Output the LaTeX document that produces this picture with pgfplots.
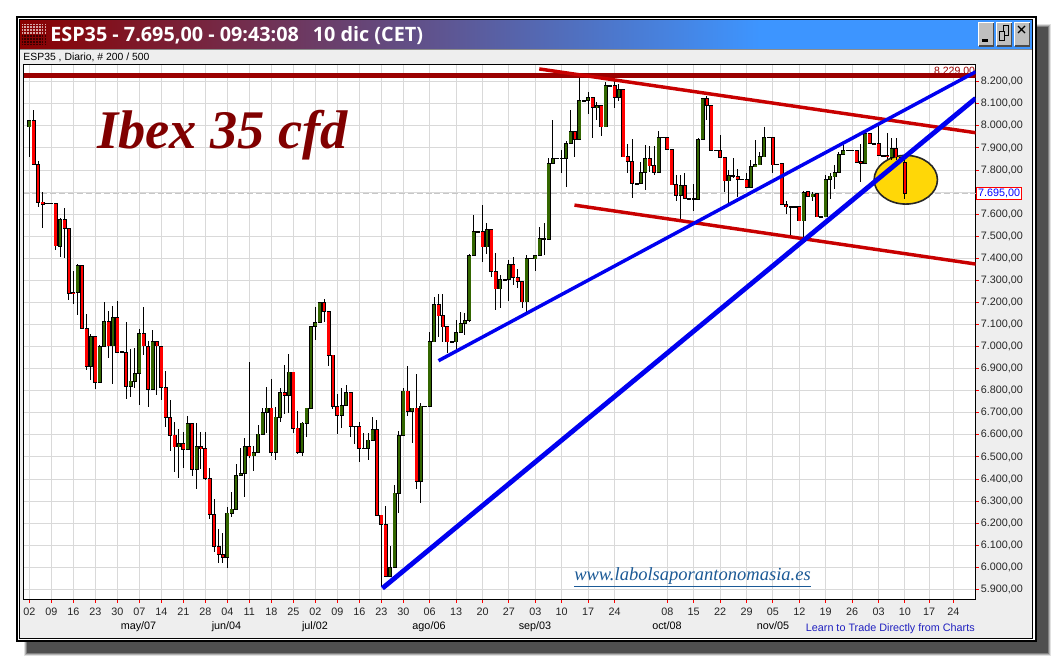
\documentclass[border=0pt]{standalone}
\usepackage{fontspec}
\usepackage{pgfplots}
\usepackage{pgfplotstable}
\pgfplotsset{compat=1.18}
\usetikzlibrary{shapes.geometric}
\setmainfont{Liberation Sans}
\newfontfamily\titlefont{Open Sans}
\newfontfamily\serifit{Liberation Serif}
\definecolor{panel}{HTML}{EEEEEE}
\definecolor{gridc}{HTML}{D9D9D9}
\definecolor{upc}{HTML}{336600}
\definecolor{dnc}{HTML}{FF0000}
\definecolor{ddred}{HTML}{9B0000}
\definecolor{trend}{HTML}{C80000}
\definecolor{tblue}{HTML}{0000F0}
\definecolor{gold}{HTML}{FFD707}
\definecolor{tleft}{HTML}{8A0000}
\definecolor{tright}{HTML}{3D95FF}
\definecolor{webc}{HTML}{1C5A96}
\definecolor{learnc}{HTML}{2020C0}
\pgfplotstableread{
i o h l c
0 7996 8023 7860 8023
7 7453 7585 7407 7576
11 7246 7374 7143 7368
14 6911 7057 6849 7046
16 6838 7007 6838 7001
17 7001 7202 7001 7114
19 7004 7184 6830 7132
23 6820 6989 6773 6843
24 6843 6994 6812 6879
25 6879 7078 6737 7060
28 6806 7075 6806 7022
34 6546 6625 6406 6561
36 6534 6685 6534 6652
38 6444 6652 6353 6546
45 6046 6272 5996 6245
46 6245 6342 6227 6263
47 6263 6468 6263 6417
48 6417 6541 6417 6426
49 6426 6585 6320 6547
51 6505 6552 6438 6521
52 6521 6645 6521 6603
53 6603 6721 6603 6701
54 6701 6816 6607 6721
56 6521 6728 6484 6680
57 6680 6811 6660 6793
59 6778 6967 6698 6884
62 6521 6657 6506 6653
63 6653 6721 6592 6721
64 6721 7092 6721 7092
65 7092 7178 7030 7110
66 7110 7199 7110 7199
71 6689 6811 6633 6734
72 6734 6826 6734 6793
77 6540 6607 6487 6576
78 6576 6681 6576 6625
82 5958 6097 5958 6000
83 6000 6373 6000 6336
84 6336 6618 6245 6598
85 6598 6812 6598 6798
87 6706 6721 6562 6721
89 6390 6743 6290 6730
91 6730 7065 6730 7024
92 7021 7226 7019 7191
97 7022 7120 6984 7064
98 7064 7156 7064 7105
99 7105 7150 7052 7119
100 7119 7420 7110 7413
101 7413 7596 7413 7522
104 7452 7558 7419 7531
107 7262 7324 7176 7304
109 7304 7392 7208 7372
113 7203 7413 7159 7400
115 7398 7413 7344 7413
116 7413 7540 7413 7489
118 7486 7856 7486 7830
119 7830 8026 7830 7853
122 7853 7931 7724 7920
123 7920 8074 7920 7975
125 7939 8215 7939 8115
127 8115 8152 8053 8129
129 8084 8110 8026 8091
131 7996 8198 7996 8183
134 8129 8192 8114 8165
139 7739 7837 7739 7789
140 7789 7915 7709 7853
143 7789 7976 7789 7948
148 7685 7777 7576 7730
152 7668 7945 7668 7939
153 7939 8123 7939 8123
159 7751 7800 7649 7776
164 7721 7845 7721 7815
165 7815 7936 7815 7824
166 7824 7880 7824 7860
167 7860 7993 7860 7948
176 7570 7706 7498 7698
178 7679 7702 7660 7691
181 7588 7777 7588 7757
182 7757 7785 7667 7772
183 7769 7822 7712 7788
184 7788 7880 7788 7871
185 7871 7913 7871 7889
190 7830 7973 7830 7966
196 7857 7943 7845 7898
}\upbars
\pgfplotstableread{
i o h l c
1 8023 8072 7826 7826
2 7826 7840 7632 7654
3 7654 7702 7539 7645
4 7650 7650 7648 7648
5 7650 7650 7648 7648
6 7649 7649 7439 7456
8 7576 7626 7403 7536
9 7536 7536 7211 7241
10 7246 7342 7194 7242
12 7368 7368 7078 7083
13 7083 7146 6894 6911
15 7046 7046 6809 6838
18 7114 7161 6950 7004
20 7132 7206 6974 6974
21 6976 6976 6974 6974
22 6974 7111 6763 6820
26 7060 7178 6962 7003
27 7001 7025 6728 6806
29 7022 7022 6781 7003
30 7001 7001 6758 6815
31 6815 6889 6637 6678
32 6678 6758 6528 6599
33 6599 6660 6433 6546
35 6561 6614 6451 6534
37 6652 6652 6415 6444
39 6546 6611 6444 6538
40 6538 6613 6396 6402
41 6402 6449 6218 6240
42 6240 6310 6071 6094
43 6094 6174 6018 6059
44 6059 6154 6018 6046
50 6548 6931 6497 6505
55 6721 6854 6506 6521
58 6792 6917 6693 6778
60 6884 6884 6610 6630
61 6630 6709 6512 6521
67 7199 7216 7113 7160
68 7160 7160 6912 6961
69 6961 6961 6719 6728
70 6728 6786 6604 6689
73 6793 6793 6592 6639
74 6639 6639 6561 6638
75 6639 6660 6479 6540
76 6540 6607 6539 6539
79 6625 6668 6236 6236
80 6236 6236 5913 6195
81 6195 6278 5958 5958
86 6798 6912 6686 6706
88 6721 6876 6355 6390
90 6730 6730 6729 6729
93 7191 7238 7042 7140
94 7140 7238 7022 7090
95 7091 7091 6969 7022
96 7022 7022 7021 7021
102 7522 7522 7521 7521
103 7522 7641 7384 7452
105 7531 7531 7316 7341
106 7341 7422 7168 7262
108 7304 7304 7303 7303
110 7372 7404 7277 7313
111 7313 7350 7265 7295
112 7295 7295 7176 7203
114 7400 7400 7399 7399
117 7489 7558 7413 7488
120 7853 7853 7852 7852
121 7853 7890 7785 7852
124 7975 7975 7860 7939
126 8115 8115 8114 8114
128 8129 8129 7946 8084
130 8093 8093 7954 7996
132 8183 8183 8182 8182
133 8183 8207 8082 8129
135 8165 8165 7860 7860
136 7860 7917 7788 7839
137 7839 7939 7674 7739
138 7739 7739 7738 7738
141 7853 7908 7792 7819
142 7819 7908 7777 7789
144 7948 7948 7947 7947
145 7948 7948 7893 7893
146 7893 7893 7733 7733
147 7733 7777 7661 7685
149 7730 7785 7671 7671
150 7671 7671 7670 7670
151 7671 7736 7615 7670
154 8123 8135 8026 8093
155 8093 8093 7890 7890
156 7890 7890 7889 7889
157 7887 7958 7857 7857
158 7857 7857 7699 7751
160 7774 7853 7765 7773
161 7769 7803 7679 7757
162 7758 7758 7757 7757
163 7757 7785 7721 7721
168 7948 7948 7947 7947
169 7948 7948 7785 7824
170 7827 7827 7826 7826
171 7830 7830 7644 7644
172 7644 7660 7603 7634
173 7634 7634 7505 7633
174 7634 7634 7633 7633
175 7634 7634 7570 7570
177 7702 7706 7682 7682
179 7694 7694 7588 7588
180 7588 7588 7587 7587
186 7889 7889 7888 7888
187 7889 7889 7888 7888
188 7889 7889 7836 7836
189 7839 7920 7747 7830
191 7966 7966 7920 7920
192 7920 7920 7919 7919
193 7920 8000 7866 7866
194 7866 7866 7865 7865
195 7866 7969 7850 7860
197 7898 7943 7845 7860
198 7855 7855 7840 7850
199 7835 7850 7667 7695
}\downbars
\begin{document}
\begin{tikzpicture}[x=0.75pt,y=-0.75pt]
\path (0,0) rectangle (1052,658);
% shadow
\fill[black!12] (24,24) rectangle (1050.5,655.5);
\fill[black!30] (25,25) rectangle (1049.5,654.5);
\fill[black!50] (26,26) rectangle (1048.5,653.5);
\fill[black!69] (27,27) rectangle (1047.5,652.5);
% frame
\fill[black] (15.5,15.5) rectangle (1036.5,642);
\fill[white] (17.5,17.5) rectangle (1034.5,640);
\fill[black] (19,19) rectangle (1033,638.8);
\fill[panel] (20,20) rectangle (1031.8,637.8);
% title bar
\shade[left color=tleft,right color=tright] (20,20) rectangle (760,49.3);
\fill[tright] (759.5,20) rectangle (1031.8,49.3);
\draw[black!45,line width=.5pt] (20,49.5) -- (1031.8,49.5);
% title icon
\foreach \r in {0,...,3}{\foreach \c in {0,...,8}{\fill[white!65!tleft] (21.5+\c*2.9,23.5+\r*2.9) rectangle ++(1.6,1.6);}}
\foreach \r in {4,...,7}{\foreach \c in {0,...,8}{\fill[black!60!tleft] (21.5+\c*2.9,23.5+\r*2.9) rectangle ++(1.6,1.6);}}
\node[anchor=base west,inner sep=0pt,text=white] at (50,41.5) {\titlefont\bfseries\fontsize{14.85}{16}\selectfont ESP35 - 7.695,00 - 09:43:08\hspace{0.7em}10 dic (CET)};
% buttons
\foreach \xa in {978,996,1014}{
 \fill[black!25] (\xa,22) rectangle (\xa+15.5,46);
 \draw[white,line width=.75pt] (\xa+.5,46) -- (\xa+.5,22.5) -- (\xa+15.5,22.5);
 \draw[black!70,line width=.9pt] (\xa+.5,46) -- (\xa+15.5,46) -- (\xa+15.5,22.5);
}
\fill[black] (981.5,38.5) rectangle (988,41.5);
\draw[black,line width=.75pt,fill=black!25] (1003,25.5) rectangle (1008.5,35);
\draw[black,line width=.75pt,fill=black!25] (999,31) rectangle (1004.5,40.5);
\draw[black,line width=.9pt] (1018,26) -- (1025,33) (1025,26) -- (1018,33);
% subtitle
\node[anchor=base west,inner sep=0pt] at (23.2,60.5) {\fontsize{7.8}{9}\selectfont ESP35 , Diario, \# 200 / 500};
% months
\foreach \xa/\t in {138.5/may\slash 07,226.5/jun\slash 04,315/jul\slash 02,429/ago\slash 06,535/sep\slash 03,667/oct\slash 08,773/nov\slash 05}{
 \node[inner sep=0pt,anchor=base] at (\xa,629) {\fontsize{8.1}{9}\selectfont \t};}
\node[anchor=base east,inner sep=0pt,text=learnc] at (975,631) {\fontsize{8.1}{9}\selectfont Learn to Trade Directly from Charts};
\begin{axis}[
 at={(17.625pt,-449.475pt)},anchor=south west,
 scale only axis,width=714.15pt,height=401.25pt,
 xmin=-1.32,xmax=215.09,ymin=5855,ymax=8279,
 axis background/.style={fill=white},
 axis line style={black,line width=.75pt},
 grid=major,major grid style={gridc,line width=.75pt},
 xtick pos=bottom,ytick pos=right,
 tick align=outside,major tick length=2.4pt,
 tick style={red,line width=.75pt},
 xtick={0,5,10,15,20,25,30,35,40,45,50,55,60,65,70,75,80,85,91,97,103,109,115,121,127,133,145,151,157,163,169,175,181,187,193,199,204.5,210},
 xticklabels={02,09,16,23,30,07,14,21,28,04,11,18,25,02,09,16,23,30,06,13,20,27,03,10,17,24,08,15,22,29,05,12,19,26,03,10,17,24},
 ytick={5900,6000,...,8200},
 yticklabels={{5.900,00},{6.000,00},{6.100,00},{6.200,00},{6.300,00},{6.400,00},{6.500,00},{6.600,00},{6.700,00},{6.800,00},{6.900,00},{7.000,00},{7.100,00},{7.200,00},{7.300,00},{7.400,00},{7.500,00},{7.600,00},{},{7.800,00},{7.900,00},{8.000,00},{8.100,00},{8.200,00}},
 tick label style={font=\fontsize{8.1}{9}\selectfont,text=black!85},
 xticklabel style={yshift=-.3pt},
 yticklabel style={xshift=-2pt},
 extra y ticks={7695},
 extra y tick labels={7.695{,}00},
 extra y tick style={grid=major,major grid style={black!22,line width=.75pt,dash pattern=on 4.5pt off 2.2pt},
   tick style={draw=none},
   yticklabel style={draw=red,fill=white,text=blue,inner sep=1.1pt,line width=.7pt,xshift=0pt}},
]
\node[ellipse,draw=black!85,fill=gold,line width=1.2pt,minimum width=47.5pt,minimum height=36.5pt,inner sep=0pt] at (axis cs:199.2,7756) {};
% candles: wicks
\addplot[draw=none,no markers,forget plot,error bars/.cd,y dir=both,y explicit,error mark=none,error bar style={draw=black,line width=.75pt}] table[x=i,y expr=(\thisrow{h}+\thisrow{l})/2,y error expr=(\thisrow{h}-\thisrow{l})/2] {\upbars};
\addplot[draw=none,no markers,forget plot,error bars/.cd,y dir=both,y explicit,error mark=none,error bar style={draw=black,line width=.75pt}] table[x=i,y expr=(\thisrow{h}+\thisrow{l})/2,y error expr=(\thisrow{h}-\thisrow{l})/2] {\downbars};
% bodies
\addplot[draw=none,no markers,forget plot,error bars/.cd,y dir=both,y explicit,error mark=none,error bar style={draw=black,line width=3pt}] table[x=i,y expr=(\thisrow{o}+\thisrow{c})/2,y error expr=abs(\thisrow{c}-\thisrow{o})/2+2.3] {\upbars};
\addplot[draw=none,no markers,forget plot,error bars/.cd,y dir=both,y explicit,error mark=none,error bar style={draw=black,line width=3pt}] table[x=i,y expr=(\thisrow{o}+\thisrow{c})/2,y error expr=abs(\thisrow{c}-\thisrow{o})/2+2.3] {\downbars};
\addplot[draw=none,no markers,forget plot,error bars/.cd,y dir=both,y explicit,error mark=none,error bar style={draw=upc,line width=1.9pt}] table[x=i,y expr=(\thisrow{o}+\thisrow{c})/2,y error expr={max(abs(\thisrow{c}-\thisrow{o})/2-1,0)}] {\upbars};
\addplot[draw=none,no markers,forget plot,error bars/.cd,y dir=both,y explicit,error mark=none,error bar style={draw=dnc,line width=1.9pt}] table[x=i,y expr=(\thisrow{o}+\thisrow{c})/2,y error expr={max(abs(\thisrow{c}-\thisrow{o})/2-1,0)}] {\downbars};
% levels and trend lines
\node[anchor=base east,inner sep=0pt,text=ddred] at (axis cs:215,8232) {\fontsize{7.9}{9}\selectfont 8.229,00};
\addplot[ddred,line width=3.4pt,forget plot] coordinates {(-1.32,8229) (215.09,8229)};
\addplot[trend,line width=2.6pt,forget plot] coordinates {(115.9,8258) (215.09,7969)};
\addplot[trend,line width=2.6pt,forget plot] coordinates {(123.9,7641) (215.09,7374)};
\addplot[tblue,line width=2.6pt,forget plot] coordinates {(93,6936) (215.09,8245)};
\addplot[tblue,line width=3.6pt,forget plot] coordinates {(80.25,5905) (215.09,8125)};
\end{axis}
\node[anchor=base west,inner sep=0pt,text=black!50!red!100!black] at (97,148.5) {\serifit\bfseries\itshape\fontsize{40.8}{44}\selectfont Ibex 35 cfd};
\node[anchor=base west,inner sep=0pt,text=webc] (w) at (574,580) {\serifit\itshape\fontsize{13.9}{18}\selectfont\underline{www.labolsaporantonomasia.es}};
\end{tikzpicture}
\end{document}
